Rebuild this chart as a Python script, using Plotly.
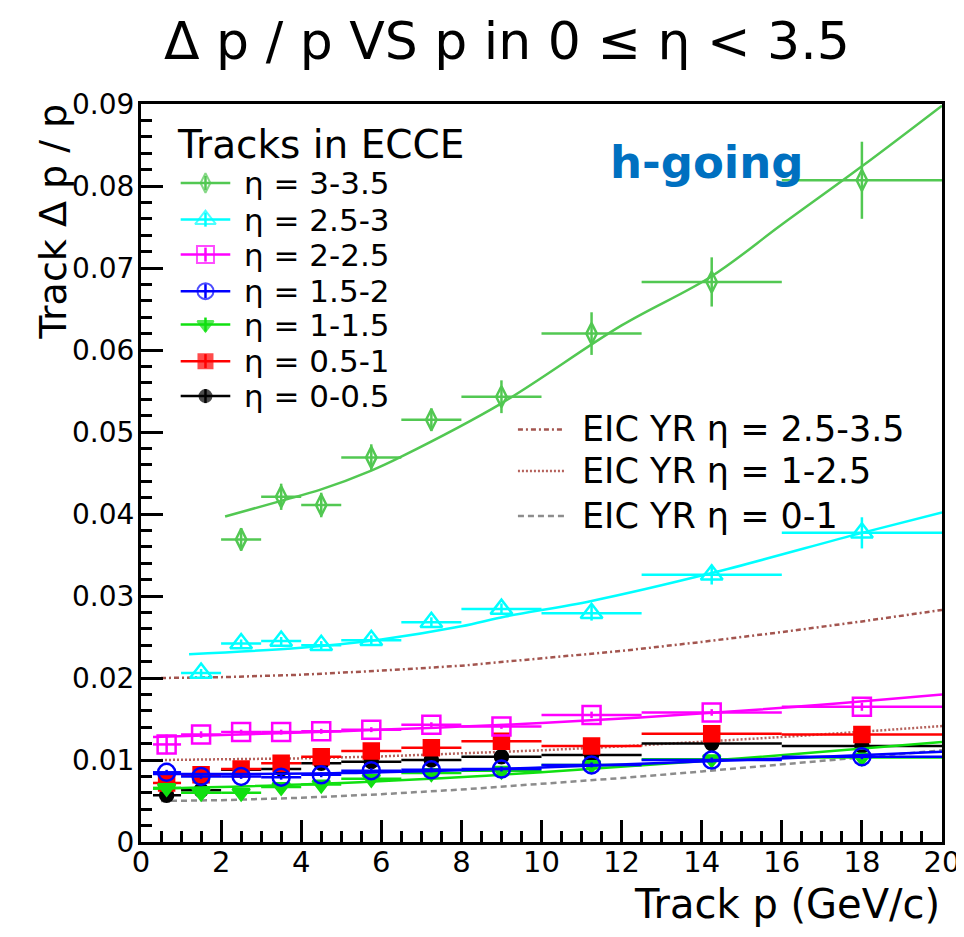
import plotly.graph_objects as go

# ---------------- data ----------------
p_center = [0.64, 1.5, 2.5, 3.5, 4.5, 5.75, 7.25, 9.0, 11.25, 14.25, 18.0]
p_low = [0.3, 1, 2, 3, 4, 5, 6.5, 8, 10, 12.5, 16]
p_high = [1, 2, 3, 4, 5, 6.5, 8, 10, 12.5, 16, 20]

eta_labels = ["η = 3-3.5", "η = 2.5-3", "η = 2-2.5", "η = 1.5-2",
              "η = 1-1.5", "η = 0.5-1", "η = 0-0.5"]
legend_title = "Tracks in ECCE"

# first bin index at which each series starts
series_start = [2, 1, 0, 0, 0, 0, 0]

res_eta_30_35 = [0.0369, 0.0421, 0.0411, 0.0469, 0.0515, 0.0543, 0.0620, 0.0683, 0.0807]
err_eta_30_35 = [0.0014, 0.0016, 0.0015, 0.0016, 0.0014, 0.0020, 0.0026, 0.0030, 0.0047]
res_eta_25_30 = [0.0206, 0.0242, 0.0245, 0.0240, 0.0246, 0.0268, 0.0284, 0.0279, 0.0326, 0.0377]
err_eta_25_30 = [0.0005, 0.0005, 0.0005, 0.0005, 0.0006, 0.0006, 0.0007, 0.0009, 0.0012, 0.0019]
res_eta_20_25 = [0.0119, 0.0131, 0.0134, 0.0134, 0.0135, 0.0137, 0.0143, 0.0141, 0.0155, 0.0158, 0.0165]
err_eta_20_25 = [0.0012, 0.0004, 0.0003, 0.0003, 0.0003, 0.0003, 0.0003, 0.0003, 0.0004, 0.0004, 0.0005]
res_eta_15_20 = [0.0085, 0.0080, 0.0080, 0.0079, 0.0082, 0.0087, 0.0088, 0.0089, 0.0094, 0.0100, 0.0104]
res_eta_10_15 = [0.0066, 0.0060, 0.0060, 0.0067, 0.0070, 0.0077, 0.0084, 0.0087, 0.0094, 0.0101, 0.0103]
res_eta_05_10 = [0.0072, 0.0082, 0.0089, 0.0096, 0.0104, 0.0111, 0.0115, 0.0123, 0.0117, 0.0132, 0.0131]
res_eta_00_05 = [0.0057, 0.0063, 0.0088, 0.0089, 0.0096, 0.0098, 0.0100, 0.0104, 0.0106, 0.0120, 0.0117]
err_small = [0.0003] * 11

# fitted curves
fit_x_30_35 = [2.1, 3.5, 4.5, 5.75, 6.5, 9.0, 12.0, 14.25, 16.0, 18.0, 20.0]
fit_y_30_35 = [0.0397, 0.0416, 0.0430, 0.0453, 0.0470, 0.0535, 0.0630, 0.0690, 0.0753, 0.0824, 0.0898]
fit_x_25_30 = [1.2, 4.0, 6.0, 8.0, 9.1, 11.25, 14.25, 18.0, 20.0]
fit_y_25_30 = [0.0229, 0.0237, 0.0247, 0.0263, 0.0275, 0.0294, 0.0328, 0.0377, 0.0402]
fit_x_20_25 = [0.3, 5.0, 10.0, 15.0, 20.0]
fit_y_20_25 = [0.0128, 0.0135, 0.0145, 0.0160, 0.0180]
fit_x_15_20 = [0.3, 5.0, 10.0, 15.0, 20.0]
fit_y_15_20 = [0.0083, 0.0084, 0.0091, 0.0100, 0.0110]
fit_x_10_15 = [0.3, 5.0, 10.0, 15.0, 20.0]
fit_y_10_15 = [0.0065, 0.0072, 0.0085, 0.0102, 0.0122]

# EIC Yellow Report requirement curves
yr_p = [0.5, 2, 4, 6, 8, 10, 12, 14, 16, 18, 20]
yr_25_35 = [0.0200, 0.0201, 0.0204, 0.0209, 0.0215, 0.0224, 0.0233, 0.0244, 0.0256, 0.0269, 0.0283]
yr_10_25 = [0.0100, 0.01005, 0.0102, 0.01044, 0.01077, 0.01118, 0.01166, 0.0122, 0.0128, 0.01345, 0.01414]
yr_00_10 = [0.0050, 0.0051, 0.00539, 0.00583, 0.0064, 0.00707, 0.0078, 0.0086, 0.00943, 0.0103, 0.01118]
yr_labels = ["EIC YR η = 2.5-3.5", "EIC YR η = 1-2.5", "EIC YR η = 0-1"]

y_ticks = [0, 0.01, 0.02, 0.03, 0.04, 0.05, 0.06, 0.07, 0.08, 0.09]
y_ticktext = ["0", "0.01", "0.02", "0.03", "0.04", "0.05", "0.06", "0.07", "0.08", "0.09"]
x_ticks = [0, 2, 4, 6, 8, 10, 12, 14, 16, 18, 20]

# ---------------- styles / layout ----------------
colors = ["#52c852", "#00ffff", "#ff00ff", "#0000ff", "#10e010", "#ff0000", "#000000"]
symbols = ["diamond-tall-open", "triangle-up-open", "square-open", "circle-open",
           "triangle-down", "square", "circle"]
sizes = [15, 19, 18, 17, 15, 15, 13]
yr_colors = ["#a3554f", "#b5625c", "#8c8c8c"]
yr_dash = ["5px,3px,2px,3px", "2px,2px", "6px,4px"]

FONT = "DejaVu Sans, Liberation Sans, Arial, sans-serif"
W, H = 964, 937
PL, PR, PT, PB = 133, 940.5, 96, 834.5   # plot frame in pixels


def px_x(px):
    return (px - PL) / (PR - PL)


def px_y(py):
    return (PB - py) / (PB - PT)


fig = go.Figure()

# EIC YR curves
for yv, col, dsh in zip([yr_25_35, yr_10_25, yr_00_10], yr_colors, yr_dash):
    fig.add_trace(go.Scatter(x=yr_p, y=yv, mode="lines", line=dict(color=col, width=2.5, dash=dsh),
                             showlegend=False, hoverinfo="skip"))

series_vals = [res_eta_30_35, res_eta_25_30, res_eta_20_25, res_eta_15_20,
               res_eta_10_15, res_eta_05_10, res_eta_00_05]
series_errs = [err_eta_30_35, err_eta_25_30, err_eta_20_25, err_small,
               err_small, err_small, err_small]
fits = {0: (fit_x_30_35, fit_y_30_35), 1: (fit_x_25_30, fit_y_25_30),
        2: (fit_x_20_25, fit_y_20_25), 3: (fit_x_15_20, fit_y_15_20),
        4: (fit_x_10_15, fit_y_10_15)}

for i in [6, 5, 4, 3, 2, 1, 0]:
    s = series_start[i]
    yv = series_vals[i]
    n = len(yv)
    xc = p_center[s:s + n]
    ex_plus = [h - c for h, c in zip(p_high[s:s + n], xc)]
    ex_minus = [c - l for l, c in zip(p_low[s:s + n], xc)]
    if i in fits:
        fx, fy = fits[i]
        fig.add_trace(go.Scatter(x=fx, y=fy, mode="lines",
                                 line=dict(color=colors[i], width=2.5, shape="spline"),
                                 showlegend=False, hoverinfo="skip"))
    fig.add_trace(go.Scatter(
        x=xc, y=yv, mode="markers", name=eta_labels[i],
        marker=dict(symbol=symbols[i], size=sizes[i], color=colors[i],
                    line=dict(color=colors[i], width=2.5)),
        error_x=dict(type="data", symmetric=False, array=ex_plus, arrayminus=ex_minus,
                     color=colors[i], thickness=2.5, width=0),
        error_y=dict(type="data", array=series_errs[i][:n], color=colors[i], thickness=2.5, width=0),
        showlegend=False))

# ---------------- hand-made legends (overlay axis in [0,1] = plot frame) ----------------
leg1_rows = [175, 211.7, 246.7, 283.3, 316.7, 353.3, 388.3]
leg1_line = (173, 223)
leg1_text_x = 235
leg1_head = (167, 136.7)
leg2_rows = [421.7, 463.3, 508.3]
leg2_line = (513, 560)
leg2_text_x = 576

annotations = []
for i, ry in enumerate(leg1_rows):
    x0, x1 = px_x(leg1_line[0]), px_x(leg1_line[1])
    xm = (x0 + x1) / 2
    yy = px_y(ry)
    fig.add_trace(go.Scatter(
        x=[x0, xm, x1], y=[yy, yy, yy], xaxis="x2", yaxis="y2", mode="lines+markers",
        line=dict(color=colors[i], width=2.5),
        marker=dict(symbol=symbols[i], size=[0, sizes[i] - 1, 0], color=colors[i],
                    line=dict(color=colors[i], width=2)),
        error_y=dict(type="data", array=[0, 0.0095, 0], color=colors[i], thickness=2.5, width=0),
        showlegend=False, hoverinfo="skip", cliponaxis=False))
    annotations.append(dict(text=eta_labels[i], xref="paper", yref="paper", x=px_x(leg1_text_x), y=yy,
                            xanchor="left", yanchor="middle", showarrow=False,
                            font=dict(size=31, family=FONT, color="black")))
annotations.append(dict(text=legend_title, xref="paper", yref="paper", x=px_x(leg1_head[0]),
                        y=px_y(leg1_head[1]), xanchor="left", yanchor="middle", showarrow=False,
                        font=dict(size=39, family=FONT, color="black")))

for k, ry in enumerate(leg2_rows):
    yy = px_y(ry)
    fig.add_trace(go.Scatter(
        x=[px_x(leg2_line[0]), px_x(leg2_line[1])], y=[yy, yy], xaxis="x2", yaxis="y2", mode="lines",
        line=dict(color=yr_colors[k], width=2.5, dash=yr_dash[k]),
        showlegend=False, hoverinfo="skip", cliponaxis=False))
    annotations.append(dict(text=yr_labels[k], xref="paper", yref="paper", x=px_x(leg2_text_x), y=yy,
                            xanchor="left", yanchor="middle", showarrow=False,
                            font=dict(size=35, family=FONT, color="black")))

annotations += [
    dict(text="Track Δ p / p", xref="paper", yref="paper", x=px_x(44), y=px_y(214),
         xanchor="center", yanchor="middle", textangle=-90, showarrow=False,
         font=dict(size=38, family=FONT, color="black")),
    dict(text="Track p (GeV/c)", xref="paper", yref="paper", x=px_x(940), y=px_y(897),
         xanchor="right", yanchor="middle", showarrow=False,
         font=dict(size=40, family=FONT, color="black")),
    dict(text="<b>h-going</b>", xref="paper", yref="paper", x=px_x(704), y=px_y(155),
         xanchor="center", yanchor="middle", showarrow=False,
         font=dict(size=45, family=FONT, color="#0070c0")),
    dict(text="Δ p / p VS p in 0 ≤ η < 3.5", xref="paper", yref="paper", x=px_x(502), y=px_y(33),
         xanchor="center", yanchor="middle", showarrow=False,
         font=dict(size=52, family=FONT, color="black")),
]

fig.update_layout(
    width=W, height=H,
    margin=dict(l=PL, r=W - PR, t=PT, b=H - PB),
    paper_bgcolor="white", plot_bgcolor="white",
    font=dict(family=FONT, color="black"),
    showlegend=False,
    xaxis=dict(range=[0, 20], tickvals=x_ticks, ticks="inside", ticklen=22, tickwidth=2.5,
               tickcolor="black", showline=True, linewidth=3, linecolor="black", mirror=True,
               showgrid=False, zeroline=False, tickfont=dict(size=29, family=FONT),
               ticklabelstandoff=-8,
               minor=dict(ticks="inside", ticklen=11, tickwidth=2.5, dtick=0.5, tickcolor="black",
                          showgrid=False)),
    yaxis=dict(range=[0, 0.09], tickvals=y_ticks, ticktext=y_ticktext, ticks="inside", ticklen=22,
               tickwidth=2.5, tickcolor="black", showline=True, linewidth=3, linecolor="black",
               mirror=True, showgrid=False, zeroline=False, tickfont=dict(size=28, family=FONT),
               ticklabelstandoff=-2,
               minor=dict(ticks="inside", ticklen=11, tickwidth=2.5, dtick=0.002, tickcolor="black",
                          showgrid=False)),
    xaxis2=dict(overlaying="x", range=[0, 1], visible=False, fixedrange=True),
    yaxis2=dict(overlaying="y", range=[0, 1], visible=False, fixedrange=True),
    annotations=annotations,
)

fig.write_html("out.html")
